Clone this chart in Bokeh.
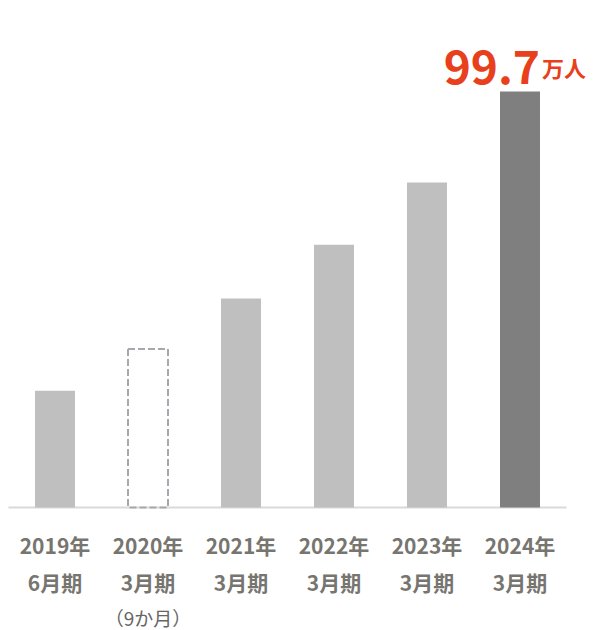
from bokeh.plotting import figure
from bokeh.models import ColumnDataSource, Range1d
from bokeh.core.properties import value
from bokeh.embed import file_html
from bokeh.resources import INLINE

# ---- data ----
years = ["2019年", "2020年", "2021年", "2022年", "2023年", "2024年"]
periods = ["6月期", "3月期", "3月期", "3月期", "3月期", "3月期"]
notes = ["", "（9か月）", "", "", "", ""]
members = [28.0, 38.0, 50.1, 63.0, 77.9, 99.7]   # 万人
partial = [False, True, False, False, False, False]
headline_value = "99.7"
headline_unit = "万人"

FONT = value("Noto Sans CJK JP")
n = len(years)
xs = list(range(n))

solid_idx = [i for i in xs if not partial[i]]
dash_idx = [i for i in xs if partial[i]]

solid_colors = ["#7f7f7f" if i == n - 1 else "#bfbfbf" for i in solid_idx]
solid = ColumnDataSource(dict(x=[xs[i] for i in solid_idx],
                              top=[members[i] for i in solid_idx],
                              color=solid_colors))
dashed = ColumnDataSource(dict(x=[xs[i] for i in dash_idx],
                               top=[members[i] for i in dash_idx]))
labels = ColumnDataSource(dict(x=xs, y=[0] * n, year=years, period=periods, note=notes))

W, H = 598, 630
px_per_cat = 93.0
px_per_unit = 416 / max(members)
left_px, base_px, top_px = 8, 507, 91
x0 = -0.5 - left_px / px_per_cat
x1 = x0 + W / px_per_cat
y_top = max(members) + top_px / px_per_unit
y_bot = -(H - base_px) / px_per_unit

p = figure(width=W, height=H, output_backend="svg", toolbar_location=None,
           x_range=Range1d(x0, x1), y_range=Range1d(y_bot, y_top),
           min_border=0, outline_line_color=None)
p.axis.visible = False
p.grid.visible = False
p.background_fill_color = "white"

# baseline
p.segment(x0=[-0.5], y0=[0], x1=[n - 0.5], y1=[0], line_color="#d9d9d9", line_width=2)

p.vbar(x="x", top="top", bottom=0, width=0.43, source=solid,
       fill_color="color", line_color=None)
p.vbar(x="x", top="top", bottom=0, width=0.43, source=dashed,
       fill_alpha=0, line_color="#a5a9ad", line_width=2, line_dash="7 3")

# category labels
p.text(x="x", y="y", text="year", source=labels, text_font=FONT,
       text_font_style="bold", text_font_size="21px", text_color="#77756f",
       text_align="center", text_baseline="middle", y_offset=37)
p.text(x="x", y="y", text="period", source=labels, text_font=FONT,
       text_font_style="bold", text_font_size="21px", text_color="#77756f",
       text_align="center", text_baseline="middle", y_offset=74)
p.text(x="x", y="y", text="note", source=labels, text_font=FONT,
       text_font_size="19px", text_color="#666666",
       text_align="center", text_baseline="middle", y_offset=110)

# headline label above last bar
p.text(x=[xs[-1]], y=[members[-1]], text=[headline_value], text_font=FONT,
       text_font_style="bold", text_font_size="46px", text_color="#e8401c",
       text_align="right", text_baseline="alphabetic", x_offset=20, y_offset=-25)
p.text(x=[xs[-1]], y=[members[-1]], text=[headline_unit], text_font=FONT,
       text_font_style="bold", text_font_size="22px", text_color="#e8401c",
       text_align="left", text_baseline="alphabetic", x_offset=22, y_offset=-25)

open("out.html", "w").write(file_html(p, INLINE))
